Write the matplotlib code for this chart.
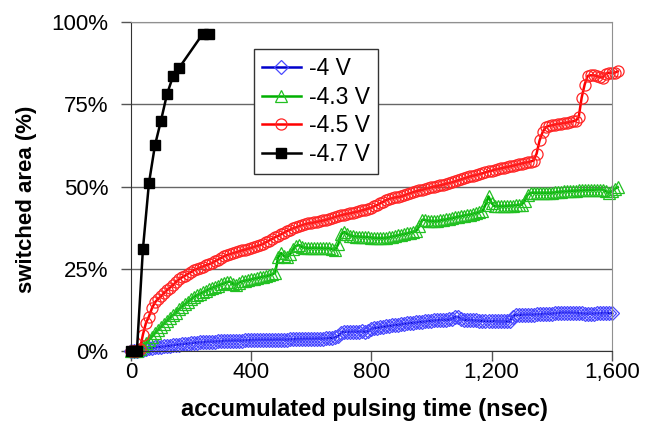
import numpy as np
import matplotlib
matplotlib.use("Agg")
import matplotlib.pyplot as plt
from matplotlib.ticker import FuncFormatter

plt.rcParams['font.family'] = ['Liberation Sans', 'DejaVu Sans']

# sampling times (ns), one sample every 10 ns
t_blue = np.arange(0, 1601, 10)
t_long = np.arange(0, 1621, 10)

# -4 V
blue = [0, 0, 0, 0.2, 0.4, 0.6, 0.8, 1.0, 1.1, 1.2,
        1.3, 1.4, 1.5, 1.6, 1.8, 1.9, 2.0, 2.1, 2.2, 2.3,
        2.4, 2.5, 2.6, 2.7, 2.7, 2.8, 2.8, 2.9, 2.9, 3.0,
        3.0, 3.1, 3.1, 3.1, 3.2, 3.2, 3.2, 3.2, 3.3, 3.3,
        3.3, 3.3, 3.4, 3.4, 3.4, 3.4, 3.4, 3.4, 3.5, 3.5,
        3.5, 3.5, 3.5, 3.6, 3.6, 3.6, 3.6, 3.6, 3.7, 3.7,
        3.7, 3.7, 3.8, 3.8, 3.8, 3.9, 3.9, 4.0, 4.2, 4.6,
        5.6, 5.9, 5.9, 5.8, 5.9, 5.9, 5.9, 6.0, 5.9, 6.0,
        6.8, 7.0, 7.1, 7.2, 7.4, 7.5, 7.6, 7.8, 7.9, 8.0,
        8.1, 8.3, 8.4, 8.5, 8.6, 8.7, 8.8, 8.9, 9.0, 9.1,
        9.2, 9.3, 9.4, 9.4, 9.5, 9.5, 9.6, 9.8, 10.4, 10.3,
        9.7, 9.5, 9.4, 9.4, 9.3, 9.3, 9.2, 9.2, 9.2, 9.1,
        9.1, 9.1, 9.0, 9.0, 9.0, 9.0, 9.0, 10.5, 11.0, 11.0,
        11.0, 11.0, 11.1, 11.1, 11.1, 11.2, 11.2, 11.2, 11.3, 11.3,
        11.4, 11.5, 11.6, 11.7, 11.7, 11.7, 11.7, 11.6, 11.6, 11.5,
        11.5, 11.4, 11.4, 11.4, 11.4, 11.5, 11.5, 11.5, 11.5, 11.5,
        11.5]

# -4.3 V
green = [0, 0, 0, 0.5, 1.4, 2.4, 3.4, 4.4, 5.4, 6.4,
         7.3, 8.3, 9.2, 10.1, 10.9, 11.7, 12.8, 13.5, 14.3, 15.0,
         15.7, 16.5, 17.0, 17.4, 17.9, 18.3, 18.8, 19.2, 19.6, 19.9,
         20.3, 20.6, 21.0, 21.1, 20.4, 20.2, 20.8, 21.2, 21.4, 21.6,
         21.8, 22.0, 22.2, 22.4, 22.6, 22.8, 23.0, 23.3, 23.8, 28.5,
         29.8, 28.8, 28.5, 29.5, 31.0, 32.0, 32.2, 31.6, 31.4, 31.3,
         31.3, 31.4, 31.3, 31.3, 31.2, 31.2, 31.2, 31.0, 30.8, 32.5,
         35.5, 36.2, 35.5, 35.0, 34.9, 34.8, 34.8, 34.7, 34.6, 34.6,
         34.5, 34.4, 34.3, 34.3, 34.3, 34.4, 34.6, 34.8, 35.0, 35.2,
         35.4, 35.6, 35.8, 36.0, 36.3, 36.6, 38.0, 39.9, 39.8, 39.6,
         39.5, 39.4, 39.5, 39.7, 39.9, 40.0, 40.2, 40.4, 40.6, 40.8,
         41.0, 41.2, 41.4, 41.5, 41.8, 42.0, 42.3, 42.5, 44.5, 47.0,
         45.0, 44.0, 44.0, 44.0, 44.0, 44.1, 44.2, 44.2, 44.3, 44.4,
         44.5, 45.5, 47.5, 48.1, 48.1, 48.1, 48.1, 48.1, 48.1, 48.1,
         48.1, 48.2, 48.3, 48.4, 48.5, 48.5, 48.6, 48.7, 48.7, 48.8,
         48.8, 48.9, 48.9, 49.0, 49.0, 49.1, 49.1, 49.1, 48.6, 48.1,
         48.5, 49.3, 49.8]

# -4.5 V
red = [0, 0, 0, 0.5, 5.0, 8.5, 10.5, 13.0, 14.8, 15.8,
       16.6, 17.6, 18.5, 19.3, 20.0, 21.0, 21.8, 22.4, 22.9, 23.5,
       24.0, 24.6, 25.0, 25.4, 25.7, 26.1, 26.4, 26.8, 27.3, 27.8,
       28.3, 28.8, 29.2, 29.5, 29.8, 30.0, 30.3, 30.6, 30.8, 31.1,
       31.4, 31.7, 32.0, 32.2, 32.6, 33.1, 33.6, 34.1, 34.6, 35.0,
       35.5, 36.0, 36.5, 36.9, 37.3, 37.6, 38.0, 38.3, 38.6, 38.8,
       38.9, 39.1, 39.3, 39.5, 39.7, 39.9, 40.2, 40.5, 40.8, 41.1,
       41.3, 41.5, 41.7, 41.9, 42.1, 42.3, 42.5, 42.8, 43.0, 43.3,
       43.6, 44.0, 44.4, 44.9, 45.4, 45.9, 46.3, 46.5, 46.7, 46.8,
       47.0, 47.3, 47.7, 48.0, 48.3, 48.6, 48.8, 49.0, 49.3, 49.5,
       49.8, 50.0, 50.2, 50.4, 50.6, 50.9, 51.1, 51.3, 51.6, 51.9,
       52.2, 52.5, 52.8, 53.1, 53.3, 53.5, 53.8, 54.0, 54.3, 54.6,
       54.8, 55.1, 55.3, 55.5, 55.7, 55.9, 56.1, 56.3, 56.5, 56.8,
       57.0, 57.2, 57.4, 57.6, 57.9, 60.0, 64.0, 66.5, 68.0, 68.4,
       68.6, 68.8, 69.0, 69.1, 69.3, 69.4, 69.6, 69.8, 70.0, 71.0,
       77.0, 81.0, 83.6, 83.8, 83.8, 83.6, 83.2, 83.1, 84.3, 84.6,
       84.5, 84.6, 85.0]

# -4.7 V
t_black = [0, 10, 20, 40, 60, 80, 100, 120, 140, 160, 240, 260]
black = [0, 0, 0, 31, 51, 62.5, 70, 78, 83.5, 86, 96.5, 96.5]

fig = plt.figure(figsize=(6.48, 4.23), dpi=100)
ax = fig.add_axes([0.202, 0.170, 0.742, 0.778])

ax.plot(t_blue, blue, color='#0000cc', lw=1.8, marker='D', ms=7.5,
        mfc='none', mec='#4848ff', mew=0.9, label='-4 V', clip_on=False)
ax.plot(t_long, green, color='#00b000', lw=1.8, marker='^', ms=8,
        mfc='none', mec='#22c022', mew=0.9, label='-4.3 V', clip_on=False)
ax.plot(t_long, red, color='#ff0000', lw=1.8, marker='o', ms=8,
        mfc='none', mec='#ff2424', mew=0.9, label='-4.5 V', clip_on=False)
ax.plot(t_black, black, color='black', lw=1.8, marker='s', ms=7.5,
        label='-4.7 V', clip_on=False, zorder=5)

ax.set_xlim(0, 1600)
ax.set_ylim(0, 100)
ax.set_xticks([0, 400, 800, 1200, 1600])
ax.set_yticks([0, 25, 50, 75, 100])
ax.xaxis.set_major_formatter(FuncFormatter(lambda v, p: f'{int(v):,}'))
ax.yaxis.set_major_formatter(FuncFormatter(lambda v, p: f'{int(v)}%'))
ax.tick_params(axis='both', labelsize=16, length=7, width=1, color='#555555')
ax.tick_params(axis='x', pad=1)
ax.tick_params(axis='y', pad=9)

ax.grid(axis='y', color='#666666', lw=1)
ax.set_axisbelow(True)
for side in ['top', 'right']:
    ax.spines[side].set_color('#909090')
for side in ['left', 'bottom']:
    ax.spines[side].set_color('#333333')

ax.set_xlabel('accumulated pulsing time (nsec)', fontsize=17, fontweight='bold')
ax.set_ylabel('switched area (%)', fontsize=16, fontweight='bold')
ax.xaxis.set_label_coords(0.485, -0.143)
ax.yaxis.set_label_coords(-0.195, 0.46)

leg = ax.legend(loc='upper left', bbox_to_anchor=(0.256, 0.918), fontsize=16.5,
                frameon=True, fancybox=False, edgecolor='#333333', framealpha=1,
                handlelength=1.7, handletextpad=0.35, labelspacing=0.25,
                borderpad=0.35, borderaxespad=0)
leg.get_frame().set_linewidth(1)

fig.savefig('out.png', dpi=100)
